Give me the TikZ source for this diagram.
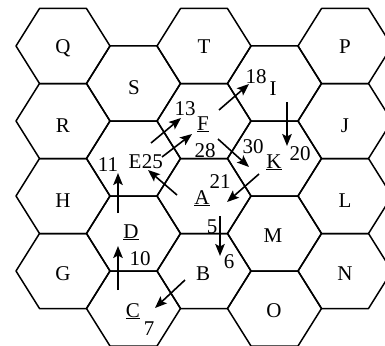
\documentclass[tikz,border=0pt]{standalone}
\usepackage{fontspec}
\setmainfont{Liberation Serif}
\usetikzlibrary{arrows.meta,positioning}
\tikzset{
  hexline/.style={draw=black, line width=1.5pt, line join=round},
  cell/.style={anchor=base, inner sep=0pt, font=\fontsize{21}{21}\selectfont},
  arrow/.style={-{Stealth[length=12pt,width=9.5pt,inset=2.5pt]}, line width=1.6pt}
}

\begin{document}
\begin{tikzpicture}[x=1pt,y=-1pt]
  \useasboundingbox (0,0) rectangle (385,345);
  \clip (0,0) rectangle (385,345);
  % hexagonal cells, five columns of four
  \foreach \c in {0,...,4}{
    \foreach \r in {0,...,3}{
      \pgfmathsetmacro{\hx}{63+70.5*\c}
      \pgfmathsetmacro{\hy}{46+75*\r+37.5*mod(\c,2)}
      \draw[hexline] (\hx-47,\hy) -- ++(23.5,-37.5) -- ++(47,0) -- ++(23.5,37.5)
        -- ++(-23.5,37.5) -- ++(-47,0) -- cycle;
    }
  }
  % cell names
  \node[cell] (Q) at (63,53) {Q};
  \node[cell] (T) at (204,53) {T};
  \node[cell] (P) at (345,53) {P};
  \node[cell] (S) at (134,94) {S};
  \node[cell] (I) at (273,95) {I};
  \node[cell] (R) at (63,132) {R};
  \node[cell] (J) at (345,132) {J};
  \node[cell] (F) at (203,130) {\underline{F}};
  \node[cell] (E) at (135,168) {E};
  \node[cell] (K) at (274,168) {\underline{K}};
  \node[cell] (H) at (63,207) {H};
  \node[cell] (A) at (202,204) {\underline{A}};
  \node[cell] (L) at (345,207) {L};
  \node[cell] (D) at (131,238) {\underline{D}};
  \node[cell] (M) at (273,242) {M};
  \node[cell] (G) at (63,280) {G};
  \node[cell] (B) at (203,280) {B};
  \node[cell] (N) at (345,280) {N};
  \node[cell] (C) at (133,317) {\underline{C}};
  \node[cell] (O) at (274,317) {O};
  % numbers
  \node[cell] (n18) at (256,83) {18};
  \node[cell] (n13) at (185,115) {13};
  \node[cell] (n28) at (205,157) {28};
  \node[cell, base right=0pt of E] (n25) {25};
  \node[cell] (n11) at (108,171) {11};
  \node[cell] (n30) at (253,153) {30};
  \node[cell] (n20) at (300,160) {20};
  \node[cell] (n21) at (220,188) {21};
  \node[cell] (n5) at (212,233) {5};
  \node[cell] (n10) at (140,265) {10};
  \node[cell] (n6) at (229,268) {6};
  \node[cell] (n7) at (149,335) {7};
  % arrow ends
  \coordinate (s13) at (151,143);  \coordinate (t13) at (181,118);
  \coordinate (s28) at (162,157);  \coordinate (t28) at (192,134);
  \coordinate (s18) at (219,110);  \coordinate (t18) at (249,84);
  \coordinate (s30) at (218,139);  \coordinate (t30) at (249,167);
  \coordinate (s20) at (287,102);  \coordinate (t20) at (287,146);
  \coordinate (s21) at (259,174);  \coordinate (t21) at (227,202);
  \coordinate (sE) at (177,195);   \coordinate (tE) at (148,170);
  \coordinate (s11) at (118,213);  \coordinate (t11) at (118,173);
  \coordinate (s6) at (220,216);   \coordinate (t6) at (220,256);
  \coordinate (s10) at (118,290);  \coordinate (t10) at (118,246);
  \coordinate (s7) at (185,280);   \coordinate (t7) at (155,308);
  \draw[arrow] (s13) -- (t13);
  \draw[arrow] (s28) -- (t28);
  \draw[arrow] (s18) -- (t18);
  \draw[arrow] (s30) -- (t30);
  \draw[arrow] (s20) -- (t20);
  \draw[arrow] (s21) -- (t21);
  \draw[arrow] (sE) -- (tE);
  \draw[arrow] (s11) -- (t11);
  \draw[arrow] (s6) -- (t6);
  \draw[arrow] (s10) -- (t10);
  \draw[arrow] (s7) -- (t7);
\end{tikzpicture}
\end{document}
